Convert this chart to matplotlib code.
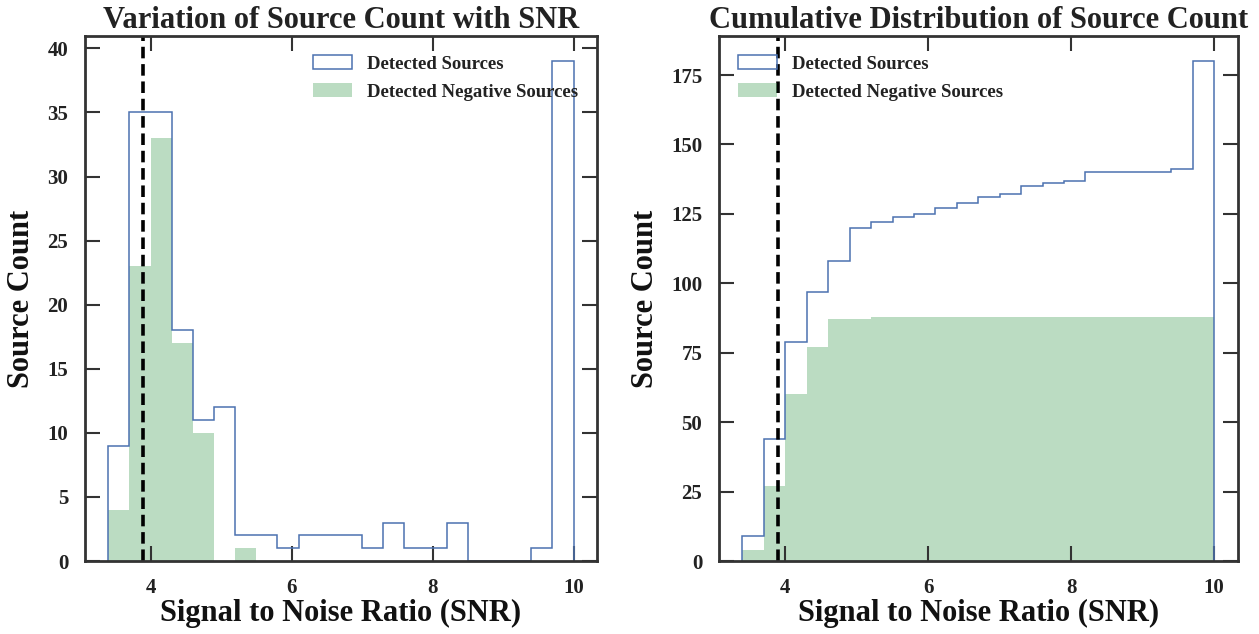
import numpy as np
import matplotlib.pyplot as plt

# SNR bins (width 0.3) and per-bin source counts
bin_edges = [3.4, 3.7, 4.0, 4.3, 4.6, 4.9, 5.2, 5.5, 5.8, 6.1, 6.4, 6.7,
             7.0, 7.3, 7.6, 7.9, 8.2, 8.5, 8.8, 9.1, 9.4, 9.7, 10.0]
detected = [9, 35, 35, 18, 11, 12, 2, 2, 1, 2, 2, 2,
            1, 3, 1, 1, 3, 0, 0, 0, 1, 39]
negative = [4, 23, 33, 17, 10, 0, 1, 0, 0, 0, 0, 0,
            0, 0, 0, 0, 0, 0, 0, 0, 0, 0]
snr_cut = 3.9

plt.rcParams['font.family'] = ['Liberation Serif', 'DejaVu Serif']
plt.rcParams['font.weight'] = 'bold'
plt.rcParams['axes.labelweight'] = 'bold'
plt.rcParams['axes.titleweight'] = 'bold'
plt.rcParams['text.color'] = '#222222'
plt.rcParams['axes.labelcolor'] = '#111111'
plt.rcParams['xtick.color'] = '#333333'
plt.rcParams['ytick.color'] = '#333333'
plt.rcParams['xtick.labelcolor'] = '#222222'
plt.rcParams['ytick.labelcolor'] = '#222222'

edges = np.array(bin_edges)
centers = (edges[:-1] + edges[1:]) / 2

fig = plt.figure(figsize=(12.59, 6.34), dpi=100)
ax1 = fig.add_axes([0.0675, 0.115, 0.4065, 0.828])
ax2 = fig.add_axes([0.571, 0.115, 0.412, 0.828])

for ax, cum in [(ax1, False), (ax2, True)]:
    ax.hist(centers, bins=edges, weights=detected, cumulative=cum,
            histtype='step', color='#4c72b0', lw=1.1, label='Detected Sources')
    ax.hist(centers, bins=edges, weights=negative, cumulative=cum,
            histtype='stepfilled', color='#55a868', alpha=0.4, lw=0,
            label='Detected Negative Sources')
    ax.axvline(snr_cut, color='black', ls='--', lw=2.6, dashes=(3.2, 1.6))
    ax.set_xticks([4, 6, 8, 10])
    ax.tick_params(direction='in', top=True, right=True, length=11,
                   width=1.5, labelsize=15, pad=12)
    for s in ax.spines.values():
        s.set_linewidth(2)
        s.set_color('#333333')
    ax.set_xlabel('Signal to Noise Ratio (SNR)', fontsize=22, labelpad=1)
    ax.set_ylabel('Source Count', fontsize=22, labelpad=8)

ax1.set_yticks(range(0, 41, 5))
ax1.set_title('Variation of Source Count with SNR', fontsize=22, pad=6)
ax1.legend(loc='upper right', frameon=False, fontsize=13.5, handlelength=2.1,
           handleheight=0.8, borderaxespad=0.6, handletextpad=0.8,
           labelspacing=0.55)

ax2.set_yticks(range(0, 176, 25))
ax2.set_title('Cumulative Distribution of Source Count', fontsize=22, pad=6)
ax2.legend(loc='upper left', frameon=False, fontsize=13.5, handlelength=2.1,
           handleheight=0.8, borderaxespad=0.6, handletextpad=0.8,
           labelspacing=0.55)

fig.savefig('out.png', dpi=100)
